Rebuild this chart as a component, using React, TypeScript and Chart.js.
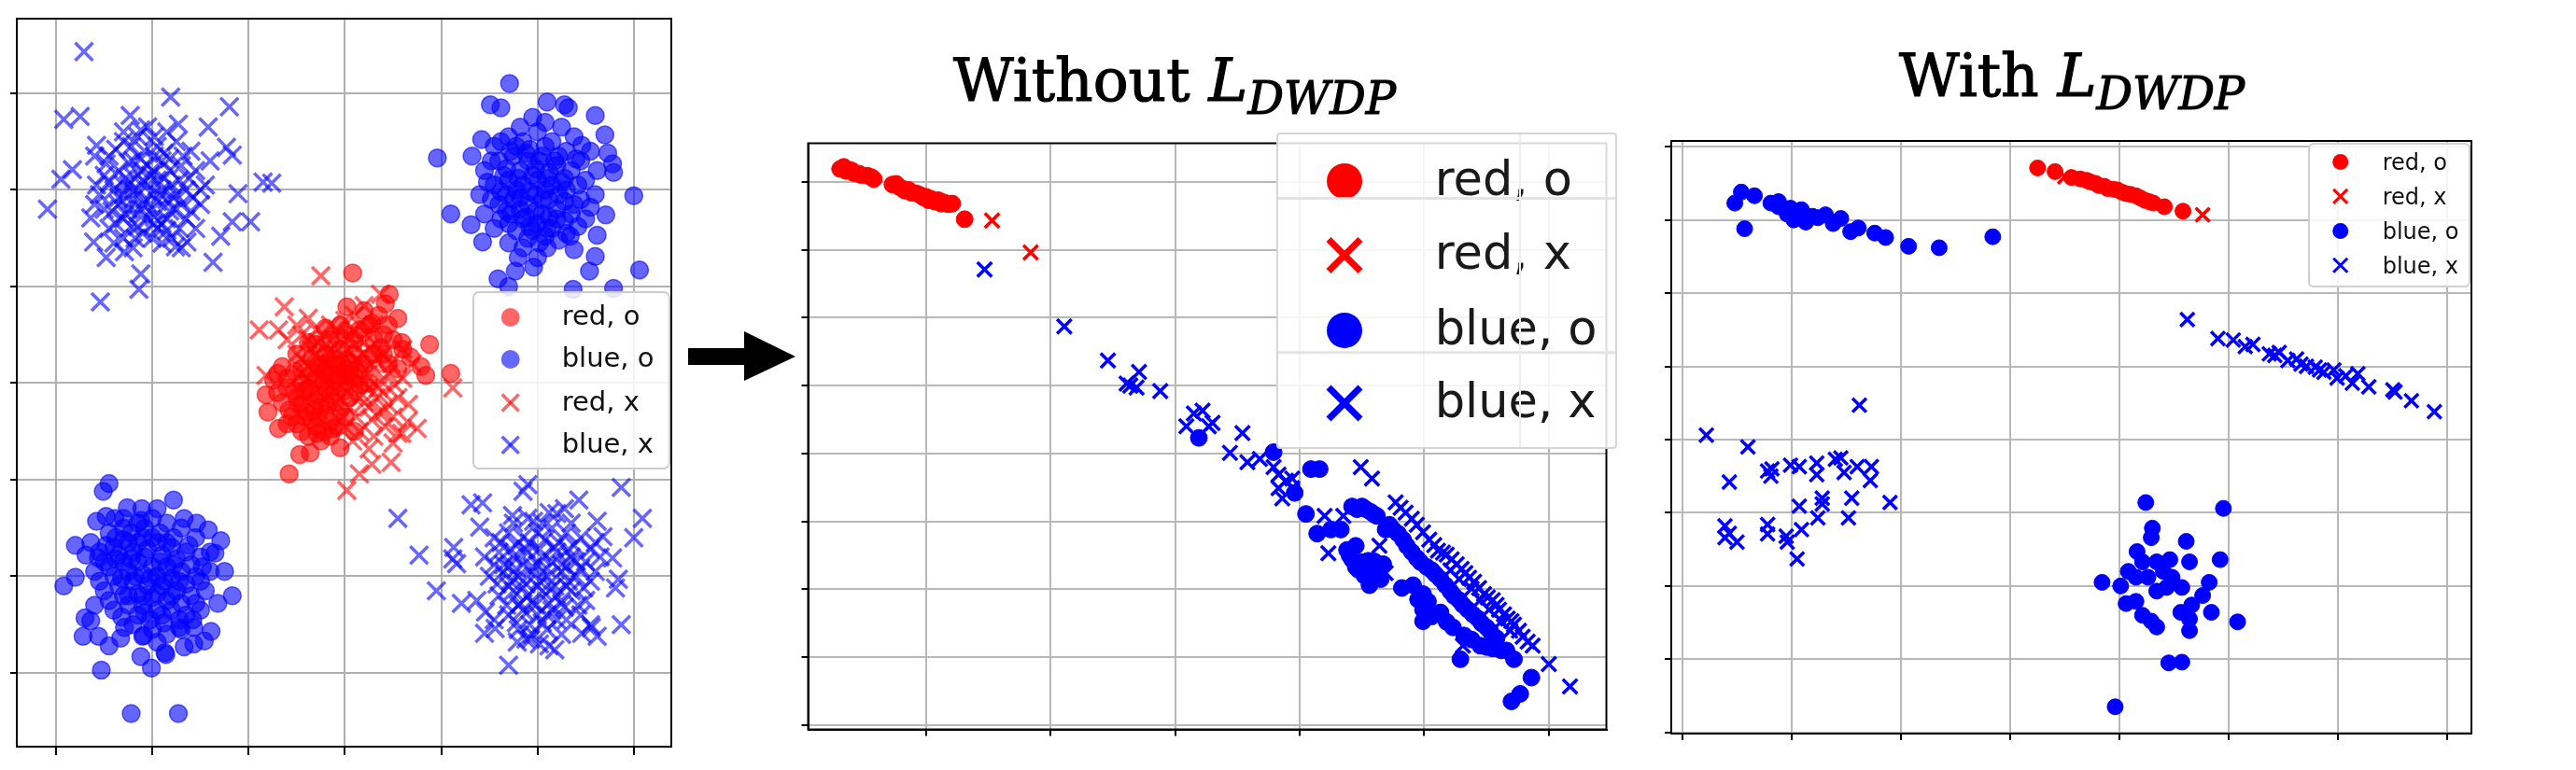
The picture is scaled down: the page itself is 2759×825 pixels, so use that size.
import React, { useEffect, useRef } from "react";
import { Chart, registerables } from "chart.js";
Chart.register(...registerables);

type Pt = [number, number];

// ---------- tick values ----------
const p1XTicks = [-3, -2, -1, 0, 1, 2, 3];
const p1YTicks = [-3, -2, -1, 0, 1, 2, 3];
const p2XTicks = [1, 2, 3, 4, 5, 6];
const p2YTicks = [0, 1, 2, 3, 4, 5, 6, 7, 8];
const p3XTicks = [0, 1, 2, 3, 4, 5, 6, 7];
const p3YTicks = [0, 1, 2, 3, 4, 5, 6, 7, 8];

const legendLabelsP1 = ["red, o", "blue, o", "red, x", "blue, x"];
const legendLabelsP23 = ["red, o", "red, x", "blue, o", "blue, x"];
const titleWithout = "Without";
const titleWith = "With";
const titleSymbol = "L";
const titleSub = "DWDP";

// ---------- panel 1 (input space) ----------
const p1BlueXCore: Pt[] = [[-2.45,2.35],[-2.3,2.5],[-2.15,2.55],[-1.95,2.45],[-1.75,2.5],[-1.6,2.4],[-2.5,2.15],[-2.35,2.2],[-2.2,2.3],[-2.05,2.25],[-1.9,2.3],[-1.7,2.25],[-1.55,2.2],[-1.45,2.05],[-2.55,1.95],[-2.4,2.0],[-2.25,2.05],[-2.1,2.1],[-1.95,2.1],[-1.8,2.05],[-1.65,2.0],[-2.5,1.8],[-2.35,1.85],[-2.2,1.9],[-2.0,1.95],[-1.85,1.9],[-1.7,1.85],[-1.5,1.85],[-2.45,1.6],[-2.3,1.7],[-2.15,1.75],[-2.0,1.8],[-1.85,1.7],[-1.65,1.7],[-1.55,1.6],[-2.3,1.5],[-2.1,1.55],[-1.95,1.6],[-1.8,1.5],[-2.2,1.4],[-1.9,1.45],[-2.6,2.35],[-1.4,2.3],[-2.05,2.65],[-1.85,2.6]];
const p1BlueXCoreB: Pt[] = [[-2.38,2.42],[-2.22,2.45],[-2.08,2.4],[-1.88,2.38],[-1.68,2.35],[-2.48,2.27],[-2.28,2.12],[-2.12,2.2],[-1.98,2.18],[-1.82,2.2],[-1.62,2.12],[-1.5,2.0],[-2.58,2.05],[-2.45,2.08],[-2.3,1.95],[-2.15,2.0],[-2.05,2.05],[-1.9,2.0],[-1.75,1.95],[-1.58,1.92],[-2.6,1.85],[-2.42,1.78],[-2.25,1.8],[-2.1,1.85],[-1.95,1.88],[-1.78,1.8],[-1.6,1.78],[-2.38,1.65],[-2.22,1.62],[-2.05,1.7],[-1.9,1.65],[-1.72,1.6],[-2.18,1.5],[-2.0,1.5],[-1.85,1.58],[-2.4,1.45],[-1.7,1.4],[-2.12,2.62],[-1.98,2.55],[-2.3,2.6]];
const p1BlueXCoreC: Pt[] = [[-2.25,2.28],[-2.12,2.32],[-1.98,2.35],[-1.82,2.32],[-2.3,2.05],[-2.18,2.12],[-2.02,2.15],[-1.88,2.12],[-1.72,2.1],[-2.35,1.92],[-2.2,1.98],[-2.08,1.9],[-1.92,1.95],[-1.78,1.92],[-2.28,1.75],[-2.12,1.8],[-1.98,1.72],[-1.82,1.78],[-2.15,1.62],[-1.98,1.65]];
const p1BlueXTopLeft: Pt[] = [[-2.71,3.43],[-1.81,2.96],[-1.20,2.86],[-2.92,2.73],[-2.75,2.76],[-3.09,1.80],[-2.95,2.11],[-0.85,2.08],[-0.76,2.07],[-0.98,1.67],[-1.17,1.67],[-1.37,1.25],[-2.12,1.13],[-2.14,0.97],[-2.54,0.84],[-1.42,2.65],[-1.23,2.44],[-2.23,2.77],[-1.73,2.68],[-2.58,2.46],[-2.83,2.21],[-2.64,1.71],[-2.61,1.46],[-2.48,1.30],[-2.29,1.36],[-1.76,1.41],[-1.64,1.46],[-1.29,1.52],[-1.11,1.96],[-1.17,2.36]];
const p1BlueXCore2: Pt[] = [[1.55,-1.6],[1.7,-1.55],[1.85,-1.6],[2.0,-1.55],[2.15,-1.5],[2.3,-1.55],[2.45,-1.6],[2.6,-1.65],[1.45,-1.8],[1.6,-1.75],[1.75,-1.8],[1.9,-1.75],[2.05,-1.8],[2.2,-1.75],[2.35,-1.8],[2.5,-1.85],[2.65,-1.8],[1.5,-2.0],[1.65,-1.95],[1.8,-2.0],[1.95,-1.95],[2.1,-2.0],[2.25,-1.95],[2.4,-2.0],[2.55,-2.05],[1.6,-2.2],[1.75,-2.15],[1.9,-2.2],[2.05,-2.15],[2.2,-2.2],[2.35,-2.15],[2.5,-2.25],[1.7,-2.4],[1.85,-2.35],[2.0,-2.4],[2.15,-2.35],[2.3,-2.45],[1.8,-2.55],[1.95,-2.6],[2.1,-2.55],[2.45,-2.4],[1.9,-1.4],[2.2,-1.35]];
const p1BlueXCore2B: Pt[] = [[1.62,-1.65],[1.78,-1.68],[1.92,-1.65],[2.08,-1.62],[2.22,-1.65],[2.38,-1.68],[2.55,-1.72],[1.55,-1.88],[1.7,-1.9],[1.85,-1.88],[2.0,-1.88],[2.15,-1.85],[2.3,-1.9],[2.45,-1.92],[2.6,-1.95],[1.58,-2.08],[1.72,-2.05],[1.88,-2.08],[2.02,-2.05],[2.18,-2.1],[2.32,-2.05],[2.48,-2.12],[1.68,-2.3],[1.82,-2.28],[1.98,-2.3],[2.12,-2.28],[2.28,-2.32],[2.42,-2.3],[1.78,-2.48],[1.92,-2.5],[2.05,-2.48],[2.2,-2.45],[1.88,-2.65],[2.02,-2.7],[1.75,-1.45],[2.05,-1.45],[2.35,-1.45],[2.55,-2.5],[1.55,-2.45],[2.25,-2.6]];
const p1BlueXCore2C: Pt[] = [[1.72,-1.72],[1.88,-1.72],[2.02,-1.72],[2.18,-1.7],[2.32,-1.72],[1.65,-1.88],[1.78,-1.92],[1.95,-1.9],[2.1,-1.92],[2.25,-1.88],[2.4,-1.85],[1.7,-2.1],[1.85,-2.12],[2.0,-2.1],[2.15,-2.12],[2.3,-2.1],[1.8,-2.3],[1.95,-2.28],[2.1,-2.4],[2.25,-2.28]];
const p1BlueXBottomRight: Pt[] = [[0.55,-1.40],[0.77,-1.78],[0.95,-2.15],[1.13,-1.70],[1.12,-1.82],[1.16,-1.87],[1.21,-2.28],[1.31,-1.26],[1.43,-1.24],[1.85,-1.12],[1.90,-1.05],[2.43,-1.21],[2.87,-1.08],[3.09,-1.40],[3.00,-1.60],[2.87,-2.50],[1.70,-2.92],[1.45,-2.59],[1.56,-2.54],[1.79,-2.68],[1.93,-2.65],[2.12,-2.72],[2.18,-2.76],[2.46,-2.59],[2.56,-2.53],[2.62,-2.62],[2.81,-2.12],[2.84,-2.03],[1.37,-2.25],[1.46,-2.37],[1.74,-1.37],[1.96,-1.43],[2.12,-1.34],[2.28,-1.30],[2.62,-1.43],[2.68,-1.59],[2.78,-1.81],[1.40,-1.49]];
const p1BlueOCore: Pt[] = [[1.55,2.45],[1.7,2.55],[1.85,2.5],[2.0,2.6],[2.15,2.5],[2.3,2.4],[2.45,2.3],[1.45,2.2],[1.6,2.3],[1.75,2.35],[1.9,2.3],[2.05,2.35],[2.2,2.25],[2.35,2.2],[2.5,2.1],[1.4,1.95],[1.55,2.05],[1.7,2.1],[1.85,2.05],[2.0,2.1],[2.15,2.05],[2.3,2.0],[2.45,1.9],[2.6,1.95],[1.45,1.75],[1.6,1.85],[1.75,1.9],[1.9,1.85],[2.05,1.9],[2.2,1.8],[2.35,1.75],[2.5,1.7],[1.55,1.6],[1.7,1.65],[1.85,1.7],[2.0,1.65],[2.15,1.6],[2.3,1.55],[1.7,1.45],[1.9,1.5],[2.1,1.4],[1.8,1.3],[2.0,1.3],[2.25,2.65],[1.95,2.75]];
const p1BlueOCoreB: Pt[] = [[1.62,2.5],[1.78,2.45],[1.92,2.42],[2.08,2.45],[2.22,2.35],[2.4,2.32],[1.52,2.3],[1.68,2.22],[1.82,2.2],[1.98,2.22],[2.12,2.18],[2.28,2.12],[2.42,2.05],[1.48,2.08],[1.62,1.98],[1.78,2.0],[1.92,1.98],[2.08,2.0],[2.22,1.95],[2.38,1.85],[2.55,1.82],[1.52,1.9],[1.68,1.78],[1.82,1.8],[1.98,1.78],[2.12,1.72],[2.28,1.68],[2.42,1.62],[1.62,1.7],[1.78,1.58],[1.95,1.58],[2.08,1.52],[2.22,1.48],[1.85,1.4],[2.02,1.45],[2.08,2.7],[1.82,2.65],[2.38,2.55],[2.55,2.4],[2.62,2.2]];
const p1BlueOCoreC: Pt[] = [[1.72,2.4],[1.88,2.38],[2.02,2.3],[2.18,2.3],[1.65,2.15],[1.8,2.12],[1.95,2.15],[2.1,2.12],[2.25,2.08],[1.68,1.95],[1.82,1.92],[1.98,1.95],[2.12,1.9],[2.28,1.88],[1.72,1.75],[1.88,1.72],[2.05,1.75],[2.2,1.7],[1.92,1.62],[2.1,1.6]];
const p1BlueOTopRight: Pt[] = [[1.71,3.10],[1.51,2.88],[1.62,2.85],[2.10,2.91],[2.28,2.88],[2.32,2.85],[2.60,2.77],[2.70,2.57],[0.96,2.33],[1.42,2.52],[1.32,2.35],[1.10,1.75],[1.31,1.64],[3.00,1.94],[3.06,1.17],[1.59,1.08],[1.70,1.00],[2.37,0.97],[2.79,0.98],[2.54,1.16],[2.60,1.31],[2.38,1.38],[1.77,1.16],[1.96,1.20],[1.43,1.46],[2.78,2.27],[2.79,2.18],[2.73,2.38],[2.71,1.74],[2.62,1.53],[2.34,1.52],[2.46,2.46]];
const p1BlueOCore2: Pt[] = [[-2.45,-1.55],[-2.3,-1.5],[-2.15,-1.45],[-2.0,-1.4],[-1.85,-1.45],[-1.7,-1.5],[-1.55,-1.6],[-2.55,-1.75],[-2.4,-1.7],[-2.25,-1.65],[-2.1,-1.6],[-1.95,-1.65],[-1.8,-1.7],[-1.65,-1.75],[-1.5,-1.8],[-2.6,-1.95],[-2.45,-1.9],[-2.3,-1.85],[-2.15,-1.85],[-2.0,-1.9],[-1.85,-1.9],[-1.7,-1.95],[-1.55,-2.0],[-1.4,-1.95],[-2.5,-2.15],[-2.35,-2.1],[-2.2,-2.05],[-2.05,-2.1],[-1.9,-2.1],[-1.75,-2.15],[-1.6,-2.2],[-1.45,-2.15],[-2.4,-2.35],[-2.25,-2.3],[-2.1,-2.3],[-1.95,-2.35],[-1.8,-2.35],[-1.65,-2.4],[-1.5,-2.35],[-2.0,-2.55],[-1.85,-2.6],[-2.2,-2.5],[-1.7,-2.55],[-2.6,-2.3],[-1.4,-1.75]];
const p1BlueOCore2B: Pt[] = [[-2.38,-1.6],[-2.22,-1.55],[-2.08,-1.5],[-1.92,-1.55],[-1.78,-1.6],[-1.62,-1.68],[-2.5,-1.85],[-2.35,-1.78],[-2.2,-1.75],[-2.05,-1.72],[-1.9,-1.78],[-1.75,-1.82],[-1.6,-1.88],[-1.48,-1.9],[-2.55,-2.05],[-2.4,-2.0],[-2.25,-1.95],[-2.1,-1.98],[-1.95,-2.0],[-1.8,-2.02],[-1.65,-2.08],[-1.5,-2.05],[-2.45,-2.25],[-2.3,-2.2],[-2.15,-2.18],[-2.0,-2.22],[-1.85,-2.25],[-1.7,-2.28],[-1.55,-2.28],[-2.32,-2.42],[-2.15,-2.4],[-2.02,-2.45],[-1.88,-2.48],[-1.72,-2.45],[-1.58,-2.45],[-2.1,-2.62],[-1.95,-2.68],[-2.12,-1.42],[-1.95,-1.3],[-2.3,-1.4]];
const p1BlueOCore2C: Pt[] = [[-2.3,-1.62],[-2.15,-1.65],[-2.0,-1.6],[-1.85,-1.65],[-2.38,-1.82],[-2.22,-1.82],[-2.08,-1.8],[-1.92,-1.85],[-1.78,-1.88],[-2.32,-2.02],[-2.18,-2.0],[-2.02,-2.02],[-1.88,-2.05],[-1.72,-2.05],[-2.25,-2.2],[-2.1,-2.2],[-1.95,-2.18],[-1.8,-2.2],[-2.08,-2.38],[-1.9,-2.4]];
const p1BlueOBottomLeft: Pt[] = [[-2.45,-1.04],[-2.51,-1.12],[-1.78,-1.21],[-2.26,-1.29],[-2.11,-1.30],[-2.58,-1.43],[-2.48,-1.38],[-2.39,-1.40],[-2.80,-1.68],[-2.64,-1.65],[-2.48,-1.68],[-2.69,-1.78],[-2.56,-1.81],[-2.80,-2.01],[-2.92,-2.10],[-1.29,-1.63],[-1.25,-1.95],[-1.17,-2.20],[-1.32,-2.28],[-1.42,-1.52],[-1.54,-1.45],[-1.67,-1.40],[-2.70,-2.43],[-2.64,-2.46],[-2.72,-2.62],[-2.56,-2.62],[-2.45,-2.72],[-2.33,-2.64],[-2.12,-2.83],[-2.01,-2.95],[-1.87,-2.79],[-1.86,-2.81],[-2.53,-2.97],[-1.67,-2.73],[-1.57,-2.70],[-1.46,-2.67],[-1.39,-2.57],[-1.72,-2.53],[-1.57,-2.53],[-2.22,-3.42],[-1.73,-3.42],[-2.29,-2.53],[-2.09,-2.61],[-1.35,-1.76]];
const p1RedOCore: Pt[] = [[-0.6,-0.05],[-0.45,0.0],[-0.3,0.05],[-0.15,0.1],[0.0,0.15],[-0.65,-0.2],[-0.5,-0.15],[-0.35,-0.1],[-0.2,-0.05],[-0.05,0.0],[0.1,0.05],[-0.55,-0.35],[-0.4,-0.3],[-0.25,-0.25],[-0.1,-0.2],[0.05,-0.15],[-0.45,-0.5],[-0.3,-0.45],[-0.15,-0.4],[0.0,-0.35],[-0.35,0.25],[-0.2,0.3],[-0.05,0.35],[0.1,0.3],[0.2,0.2],[0.3,0.45],[0.15,0.55],[0.0,0.5],[-0.15,0.45],[0.35,0.7],[0.45,0.6],[0.2,0.75],[0.6,0.35],[0.55,0.15],[0.4,0.3],[-0.7,0.1],[-0.25,-0.6],[0.1,-0.5],[0.25,0.0]];
const p1RedOCoreB: Pt[] = [[-0.52,-0.08],[-0.38,-0.05],[-0.22,0.02],[-0.08,0.08],[0.05,0.1],[-0.58,-0.28],[-0.45,-0.22],[-0.3,-0.18],[-0.15,-0.12],[0.0,-0.08],[0.15,-0.02],[-0.5,-0.42],[-0.35,-0.38],[-0.2,-0.32],[-0.05,-0.28],[-0.38,-0.55],[-0.22,-0.5],[-0.08,-0.45],[-0.45,0.15],[-0.28,0.18],[-0.12,0.25],[0.05,0.22],[-0.6,0.05],[0.1,0.45],[-0.05,0.6],[0.25,0.6],[0.4,0.5],[0.5,0.45],[0.3,0.3],[-0.3,0.4],[-0.5,0.3],[0.45,0.2],[0.15,0.15],[-0.7,-0.1],[-0.15,-0.55]];
const p1RedOCoreC: Pt[] = [[-0.48,-0.22],[-0.32,-0.28],[-0.18,-0.22],[-0.42,-0.08],[-0.28,-0.12],[-0.12,-0.05],[-0.38,0.08],[-0.22,0.12],[-0.08,0.18],[-0.52,0.12],[-0.42,-0.35],[-0.28,-0.35],[0.02,0.08],[-0.18,0.2]];
const p1RedOOut: Pt[] = [[0.08,1.14],[0.46,0.92],[0.42,0.82],[0.55,0.67],[0.88,0.40],[0.79,0.17],[0.84,0.08],[1.10,0.10],[-0.80,-0.30],[-0.69,-0.47],[-0.58,-0.94],[-0.47,-0.74],[-0.36,-0.72],[-0.05,-0.67],[0.02,0.79],[-0.82,-0.12],[-0.74,0.03],[-0.65,0.17],[-0.38,0.42],[-0.20,0.57],[0.28,0.62],[0.37,0.37],[0.59,0.42],[0.68,0.27],[-0.29,-0.52],[-0.12,-0.47],[-0.60,-0.42]];
const p1RedXCore: Pt[] = [[-0.45,0.5],[-0.3,0.55],[-0.15,0.6],[0.0,0.65],[0.15,0.6],[-0.5,0.3],[-0.35,0.35],[-0.2,0.4],[-0.05,0.45],[0.1,0.4],[0.25,0.35],[0.4,0.3],[-0.45,0.1],[-0.3,0.15],[-0.15,0.2],[0.0,0.25],[0.15,0.2],[0.3,0.15],[0.45,0.1],[0.6,0.05],[-0.2,0.0],[-0.05,0.05],[0.1,0.0],[0.25,-0.05],[0.4,-0.1],[0.55,-0.15],[-0.1,-0.2],[0.05,-0.25],[0.2,-0.2],[0.35,-0.3],[0.5,-0.35],[0.0,-0.45],[0.15,-0.5],[0.3,-0.55],[0.65,-0.4],[0.2,0.8],[-0.6,0.45],[0.7,0.2]];
const p1RedXCoreB: Pt[] = [[-0.38,0.45],[-0.22,0.5],[-0.08,0.55],[0.08,0.55],[0.22,0.5],[-0.42,0.22],[-0.28,0.25],[-0.12,0.3],[0.02,0.35],[0.18,0.3],[0.32,0.25],[0.48,0.2],[-0.38,0.05],[-0.22,0.1],[-0.08,0.15],[0.08,0.12],[0.22,0.08],[0.38,0.02],[0.52,-0.02],[-0.12,-0.08],[0.02,-0.1],[0.18,-0.12],[0.32,-0.15],[0.45,-0.22],[-0.02,-0.35],[0.12,-0.35],[0.28,-0.38],[0.42,-0.45],[0.08,-0.6],[0.25,-0.68],[0.55,-0.52],[0.1,0.7],[0.3,0.6],[-0.5,0.6],[0.6,0.35]];
const p1RedXCoreC: Pt[] = [[-0.28,0.42],[-0.12,0.45],[0.05,0.48],[0.2,0.42],[-0.32,0.28],[-0.18,0.32],[-0.02,0.3],[0.12,0.25],[0.28,0.2],[-0.25,0.15],[-0.1,0.1],[0.05,0.05],[0.2,0.0],[0.35,-0.05],[0.1,-0.15],[0.25,-0.25],[0.4,-0.3]];
const p1RedXOut: Pt[] = [[-0.25,1.11],[-0.63,0.79],[-0.89,0.55],[-0.69,0.55],[-0.82,0.08],[1.12,-0.05],[0.75,-0.47],[0.59,-0.52],[0.50,-0.62],[0.48,-0.82],[0.28,-0.84],[0.15,-0.94],[0.02,-1.11],[0.66,-0.22],[0.37,0.92],[-0.38,0.67]];

// ---------- panel 2 (without L_DWDP) ----------
const p2RedO: Pt[] = [[0.31,8.19],[0.34,8.22],[0.36,8.16],[0.40,8.17],[0.42,8.13],[0.46,8.12],[0.48,8.10],[0.53,8.09],[0.56,8.07],[0.58,8.04],[0.73,7.96],[0.76,7.97],[0.78,7.93],[0.81,7.90],[0.83,7.87],[0.86,7.88],[0.88,7.84],[0.92,7.83],[0.95,7.81],[0.98,7.77],[1.0,7.78],[1.02,7.73],[1.04,7.75],[1.07,7.71],[1.10,7.73],[1.12,7.68],[1.14,7.70],[1.18,7.67],[1.21,7.68],[1.31,7.45]];
const p2RedX: Pt[] = [[1.53,7.43],[1.84,6.96]];
const p2BlueO: Pt[] = [[3.19,4.23],[3.79,4.02],[3.96,3.42],[4.09,3.77],[4.16,3.77],[4.05,3.11],[4.14,2.82],[4.25,2.88],[4.33,2.88],[4.42,3.22],[4.46,3.18],[4.50,3.22],[4.53,3.18],[4.57,3.14],[4.60,3.10],[4.62,3.08],[4.38,2.58],[4.40,2.50],[4.45,2.64],[4.42,2.44],[4.47,2.29],[4.45,2.33],[4.50,2.40],[4.52,2.20],[4.55,2.42],[4.57,2.11],[4.56,2.06],[4.60,2.41],[4.62,2.30],[4.65,2.15],[4.67,2.37],[4.69,2.88],[4.72,2.95],[4.75,2.88],[4.79,2.82],[4.83,2.73],[4.86,2.64],[4.90,2.55],[4.94,2.46],[4.97,2.40],[5.02,2.33],[4.82,2.02],[4.91,2.06],[4.95,1.85],[4.99,1.93],[5.03,1.82],[4.99,1.70],[4.99,1.53],[5.06,1.60],[5.06,2.28],[5.09,2.22],[5.13,2.15],[5.17,2.06],[5.21,1.97],[5.24,1.90],[5.28,1.84],[5.31,1.77],[5.35,1.70],[5.39,1.63],[5.43,1.57],[5.46,1.50],[5.50,1.44],[5.53,1.38],[5.58,1.28],[5.13,1.66],[5.18,1.52],[5.23,1.44],[5.32,1.32],[5.38,1.26],[5.45,1.17],[5.50,1.15],[5.55,1.13],[5.62,1.10],[5.66,1.10],[5.29,0.97],[5.72,0.97],[5.86,0.70],[5.77,0.46],[5.70,0.35]];
const p2BlueX: Pt[] = [[1.47,6.71],[2.11,5.87],[2.46,5.37],[2.61,5.03],[2.71,5.20],[2.69,4.97],[2.64,5.00],[2.88,4.92],[3.09,4.40],[3.15,4.59],[3.22,4.63],[3.27,4.40],[3.30,4.45],[3.54,4.30],[3.44,4.01],[3.58,3.87],[3.68,3.92],[3.79,3.80],[3.83,3.69],[3.89,3.60],[3.83,3.49],[3.86,3.34],[3.94,3.63],[3.94,3.49],[4.49,3.80],[4.58,3.63],[4.23,2.53],[4.35,3.08],[4.20,3.08],[4.64,2.64],[4.69,2.24],[5.31,1.17],[4.77,3.28],[4.81,3.20],[4.85,3.13],[4.90,3.04],[4.94,2.95],[4.99,2.84],[5.04,2.73],[5.08,2.65],[5.11,2.57],[5.15,2.54],[5.18,2.51],[5.22,2.44],[5.26,2.37],[5.30,2.30],[5.33,2.24],[5.36,2.17],[5.40,2.11],[5.44,2.02],[5.48,1.93],[5.51,1.88],[5.55,1.84],[5.58,1.77],[5.60,1.70],[5.64,1.63],[5.67,1.57],[5.70,1.53],[5.72,1.48],[5.76,1.39],[5.79,1.30],[5.83,1.23],[5.87,1.17],[6.00,0.90],[6.17,0.57],[5.21,2.28],[5.28,2.15],[5.38,2.01],[5.45,1.84],[5.52,1.70],[5.62,1.53],[5.69,1.39]];

// ---------- panel 3 (with L_DWDP) ----------
const p3RedO: Pt[] = [[3.25,7.71],[3.41,7.66],[3.56,7.58],[3.64,7.56],[3.70,7.54],[3.73,7.52],[3.78,7.50],[3.81,7.47],[3.86,7.46],[3.89,7.43],[3.94,7.42],[3.98,7.41],[4.02,7.38],[4.06,7.36],[4.10,7.35],[4.15,7.33],[4.19,7.30],[4.23,7.27],[4.27,7.25],[4.31,7.23],[4.41,7.18],[4.58,7.12]];
const p3RedX: Pt[] = [[3.50,7.59],[4.76,7.07]];
const p3BlueO: Pt[] = [[0.48,7.23],[0.54,7.38],[0.66,7.33],[0.57,6.88],[0.81,7.23],[0.88,7.25],[0.88,7.18],[0.96,7.08],[0.99,7.16],[1.02,7.00],[1.09,7.14],[1.13,6.97],[1.19,7.05],[1.24,7.03],[1.31,7.07],[1.38,6.95],[1.45,7.02],[1.54,6.84],[1.61,6.89],[1.76,6.82],[1.86,6.76],[2.07,6.64],[2.35,6.62],[2.84,6.77],[4.24,3.14],[4.95,3.06],[4.30,2.79],[4.29,2.66],[4.61,2.61],[4.16,2.47],[4.21,2.33],[4.34,2.33],[4.46,2.36],[4.64,2.33],[4.92,2.36],[4.08,2.20],[4.15,2.12],[4.26,2.12],[4.40,2.20],[4.48,2.12],[3.84,2.05],[4.01,2.00],[4.34,1.93],[4.43,1.98],[4.57,1.98],[4.82,2.05],[4.76,1.87],[4.06,1.76],[4.15,1.79],[4.21,1.60],[4.29,1.52],[4.34,1.44],[4.56,1.64],[4.66,1.74],[4.64,1.55],[4.64,1.39],[4.84,1.64],[5.08,1.51],[4.45,0.95],[4.57,0.96],[3.96,0.35]];
const p3BlueX: Pt[] = [[0.22,4.06],[0.60,3.90],[0.43,3.42],[1.62,4.47],[0.78,3.57],[0.81,3.50],[0.82,3.60],[0.99,3.65],[1.07,3.63],[1.23,3.68],[1.23,3.52],[1.40,3.73],[1.45,3.75],[1.48,3.55],[1.60,3.63],[1.73,3.63],[1.72,3.44],[1.07,3.09],[1.28,3.20],[1.28,3.12],[1.55,3.20],[1.90,3.14],[1.24,2.93],[1.52,2.93],[1.09,2.77],[0.78,2.84],[0.78,2.71],[0.39,2.82],[0.39,2.66],[0.50,2.60],[0.43,2.72],[0.95,2.68],[0.96,2.60],[1.05,2.37],[4.62,5.64],[4.90,5.38],[5.04,5.36],[5.15,5.27],[5.22,5.30],[5.37,5.17],[5.42,5.15],[5.46,5.19],[5.54,5.08],[5.62,5.10],[5.66,5.03],[5.71,5.00],[5.79,4.99],[5.83,4.95],[5.87,4.92],[5.96,4.95],[5.99,4.84],[6.07,4.87],[6.13,4.77],[6.18,4.90],[6.28,4.72],[6.50,4.68],[6.52,4.65],[6.67,4.53],[6.88,4.38]];

// ---------- chart helpers ----------
const framePlugin = {
  id: "frame",
  afterDraw(chart: any) {
    const { ctx, chartArea: a } = chart;
    ctx.save();
    ctx.strokeStyle = "#000";
    ctx.lineWidth = 2;
    ctx.strokeRect(a.left, a.top, a.right - a.left, a.bottom - a.top);
    ctx.restore();
  },
};

const toXY = (arr: Pt[]) => arr.map(([x, y]) => ({ x, y }));

function circleDs(label: string, data: Pt[], color: string, r: number, bw: number, order: number) {
  return { label, data: toXY(data), pointStyle: "circle", pointRadius: r, pointHoverRadius: r, backgroundColor: color, borderColor: color, borderWidth: bw, order };
}
function crossDs(label: string, data: Pt[], color: string, r: number, lw: number, order: number) {
  return { label, data: toXY(data), pointStyle: "crossRot", pointRadius: r, pointHoverRadius: r, backgroundColor: color, borderColor: color, borderWidth: lw, order };
}

function axis(min: number, max: number, ticks: number[], tickLen: number, gridColor: string) {
  return {
    type: "linear",
    min,
    max,
    afterBuildTicks: (s: any) => {
      s.ticks = ticks.map((v) => ({ value: v }));
    },
    ticks: { display: false },
    grid: { color: gridColor, lineWidth: 2, tickLength: tickLen, tickColor: "#000", tickWidth: 2 },
    border: { display: true, color: "#000", width: 2 },
  };
}

type PanelProps = {
  rect: { l: number; t: number; r: number; b: number };
  xr: [number, number];
  yr: [number, number];
  xt: number[];
  yt: number[];
  tickX: number;
  tickY: number;
  grid: string;
  datasets: any[];
};

function Panel({ rect, xr, yr, xt, yt, tickX, tickY, grid, datasets }: PanelProps) {
  const ref = useRef<HTMLCanvasElement>(null);
  const padT = 4;
  const padR = 4;
  const w = rect.r - rect.l + tickY + padR;
  const h = rect.b - rect.t + padT + tickX;
  useEffect(() => {
    const chart = new Chart(ref.current as HTMLCanvasElement, {
      type: "scatter",
      data: { datasets },
      options: {
        responsive: false,
        animation: false,
        events: [],
        layout: { padding: { left: 0, top: padT, right: padR, bottom: 0 } },
        plugins: { legend: { display: false }, tooltip: { enabled: false } },
        scales: {
          x: axis(xr[0], xr[1], xt, tickX, grid),
          y: axis(yr[0], yr[1], yt, tickY, grid),
        },
      } as any,
      plugins: [framePlugin],
    });
    return () => chart.destroy();
  }, []);
  return (
    <canvas
      ref={ref}
      width={w}
      height={h}
      style={{ position: "absolute", left: rect.l - tickY, top: rect.t - padT, width: w, height: h }}
    />
  );
}

// ---------- legend (svg) ----------
function Marker({ kind, cx, cy, color, r, half, lw, opacity }: any) {
  if (kind === "o") return <circle cx={cx} cy={cy} r={r} fill={color} fillOpacity={opacity} />;
  return (
    <g stroke={color} strokeWidth={lw} strokeOpacity={opacity} strokeLinecap="butt">
      <line x1={cx - half} y1={cy - half} x2={cx + half} y2={cy + half} />
      <line x1={cx - half} y1={cy + half} x2={cx + half} y2={cy - half} />
    </g>
  );
}

function Legend({ box, labels, rowsY, markerX, textX, base, fontSize, r, half, lw, opacity, stroke, rx, textColor }: any) {
  return (
    <g>
      <rect x={box.x} y={box.y} width={box.w} height={box.h} rx={rx} fill="#fff" fillOpacity={0.85} stroke={stroke} strokeWidth={2} />
      {labels.map((lab: string, i: number) => {
        const color = lab.startsWith("red") ? "#ff0000" : "#0000ff";
        const kind = lab.endsWith("o") ? "o" : "x";
        return (
          <g key={lab}>
            <Marker kind={kind} cx={markerX} cy={rowsY[i]} color={color} r={r} half={half} lw={lw} opacity={opacity} />
            <text x={textX} y={rowsY[i] + base} fontFamily="'DejaVu Sans', sans-serif" fontSize={fontSize} fill={textColor}>
              {lab}
            </text>
          </g>
        );
      })}
    </g>
  );
}

export default function App() {
  const a = 0.6;
  const p1 = [
    circleDs("red, o", [...p1RedOCore, ...p1RedOCoreB, ...p1RedOCoreC, ...p1RedOOut], `rgba(255,0,0,${a})`, 9.5, 1.5, 4),
    circleDs("blue, o", [...p1BlueOCore, ...p1BlueOCoreB, ...p1BlueOCoreC, ...p1BlueOTopRight, ...p1BlueOCore2, ...p1BlueOCore2B, ...p1BlueOCore2C, ...p1BlueOBottomLeft], `rgba(0,0,255,${a})`, 9.5, 1.5, 3),
    crossDs("red, x", [...p1RedXCore, ...p1RedXCoreB, ...p1RedXCoreC, ...p1RedXOut], `rgba(255,0,0,${a})`, 13.5, 3.5, 2),
    crossDs("blue, x", [...p1BlueXCore, ...p1BlueXCoreB, ...p1BlueXCoreC, ...p1BlueXTopLeft, ...p1BlueXCore2, ...p1BlueXCore2B, ...p1BlueXCore2C, ...p1BlueXBottomRight], `rgba(0,0,255,${a})`, 13.5, 3.5, 1),
  ];
  const p2 = [
    circleDs("red, o", p2RedO, "#ff0000", 9, 1, 4),
    circleDs("blue, o", p2BlueO, "#0000ff", 9, 1, 3),
    crossDs("red, x", p2RedX, "#ff0000", 11, 3.5, 2),
    crossDs("blue, x", p2BlueX, "#0000ff", 11, 3.5, 1),
  ];
  const p3 = [
    circleDs("red, o", p3RedO, "#ff0000", 8.5, 1, 4),
    circleDs("blue, o", p3BlueO, "#0000ff", 8.5, 1, 3),
    crossDs("red, x", p3RedX, "#ff0000", 10.5, 3.5, 2),
    crossDs("blue, x", p3BlueX, "#0000ff", 10.5, 3.5, 1),
  ];

  return (
    <div style={{ position: "fixed", left: 0, top: 0, width: 2759, height: 825, background: "#fff", overflow: "hidden" }}>
      <Panel rect={{ l: 8, t: 7, r: 732, b: 808 }} xr={[-3.408, 3.39]} yr={[-3.763, 3.772]} xt={p1XTicks} yt={p1YTicks} tickX={9} tickY={7} grid="#b0b0b0" datasets={p1} />
      <Panel rect={{ l: 858, t: 143, r: 1731, b: 789 }} xr={[0.053, 6.462]} yr={[-0.063, 8.568]} xt={p2XTicks} yt={p2YTicks} tickX={7} tickY={7} grid="#b8b8b8" datasets={p2} />
      <Panel rect={{ l: 1783, t: 141, r: 2657, b: 793 }} xr={[-0.101, 7.219]} yr={[-0.016, 8.079]} xt={p3XTicks} yt={p3YTicks} tickX={7} tickY={7} grid="#b8b8b8" datasets={p3} />
      <svg width={2759} height={825} style={{ position: "absolute", left: 0, top: 0, pointerEvents: "none" }}>
        <polygon points="737,373 797,373 797,355 852,382 797,408 797,391 737,391" fill="#000" />
        <text x={1021} y={108} fontFamily="'DejaVu Serif', serif" fontSize={63} fill="#000" stroke="#000" strokeWidth={1.2}>
          {titleWithout + "\u00a0"}
          <tspan fontStyle="italic">{titleSymbol}</tspan>
          <tspan fontStyle="italic" fontSize={48} dy={14}>{titleSub}</tspan>
        </text>
        <text x={2034} y={103} fontFamily="'DejaVu Serif', serif" fontSize={63} fill="#000" stroke="#000" strokeWidth={1.2}>
          {titleWith + "\u00a0"}
          <tspan fontStyle="italic">{titleSymbol}</tspan>
          <tspan fontStyle="italic" fontSize={48} dy={14}>{titleSub}</tspan>
        </text>
        <Legend box={{ x: 507, y: 313, w: 210, h: 189 }} labels={legendLabelsP1} rowsY={[340, 385, 431.5, 476.7]} markerX={546.7} textX={601.7} base={8.3} fontSize={29} r={10} half={9} lw={3.5} opacity={0.6} stroke="#cccccc" rx={6} textColor="#111" />
        <Legend box={{ x: 1368, y: 143, w: 363, h: 337 }} labels={legendLabelsP23} rowsY={[194, 273.5, 354, 432]} markerX={1440} textX={1536.7} base={14.5} fontSize={51} r={19} half={17} lw={7} opacity={1} stroke="#d6d6d6" rx={3} textColor="#1a1a1a" />
        <line x1={1369} y1={212.6} x2={1730} y2={212.6} stroke="#e4e4e4" strokeWidth={3} />
        <line x1={1369} y1={377.8} x2={1730} y2={377.8} stroke="#e4e4e4" strokeWidth={3} />
        <line x1={1628} y1={144} x2={1628} y2={479} stroke="#ececec" strokeWidth={2} />
        <Legend box={{ x: 2473, y: 154, w: 172, h: 153 }} labels={legendLabelsP23} rowsY={[173.5, 210.4, 247.4, 284.3]} markerX={2506.7} textX={2551.7} base={8.7} fontSize={24} r={8.5} half={7.5} lw={3} opacity={1} stroke="#d0d0d0" rx={5} textColor="#111" />
      </svg>
    </div>
  );
}
